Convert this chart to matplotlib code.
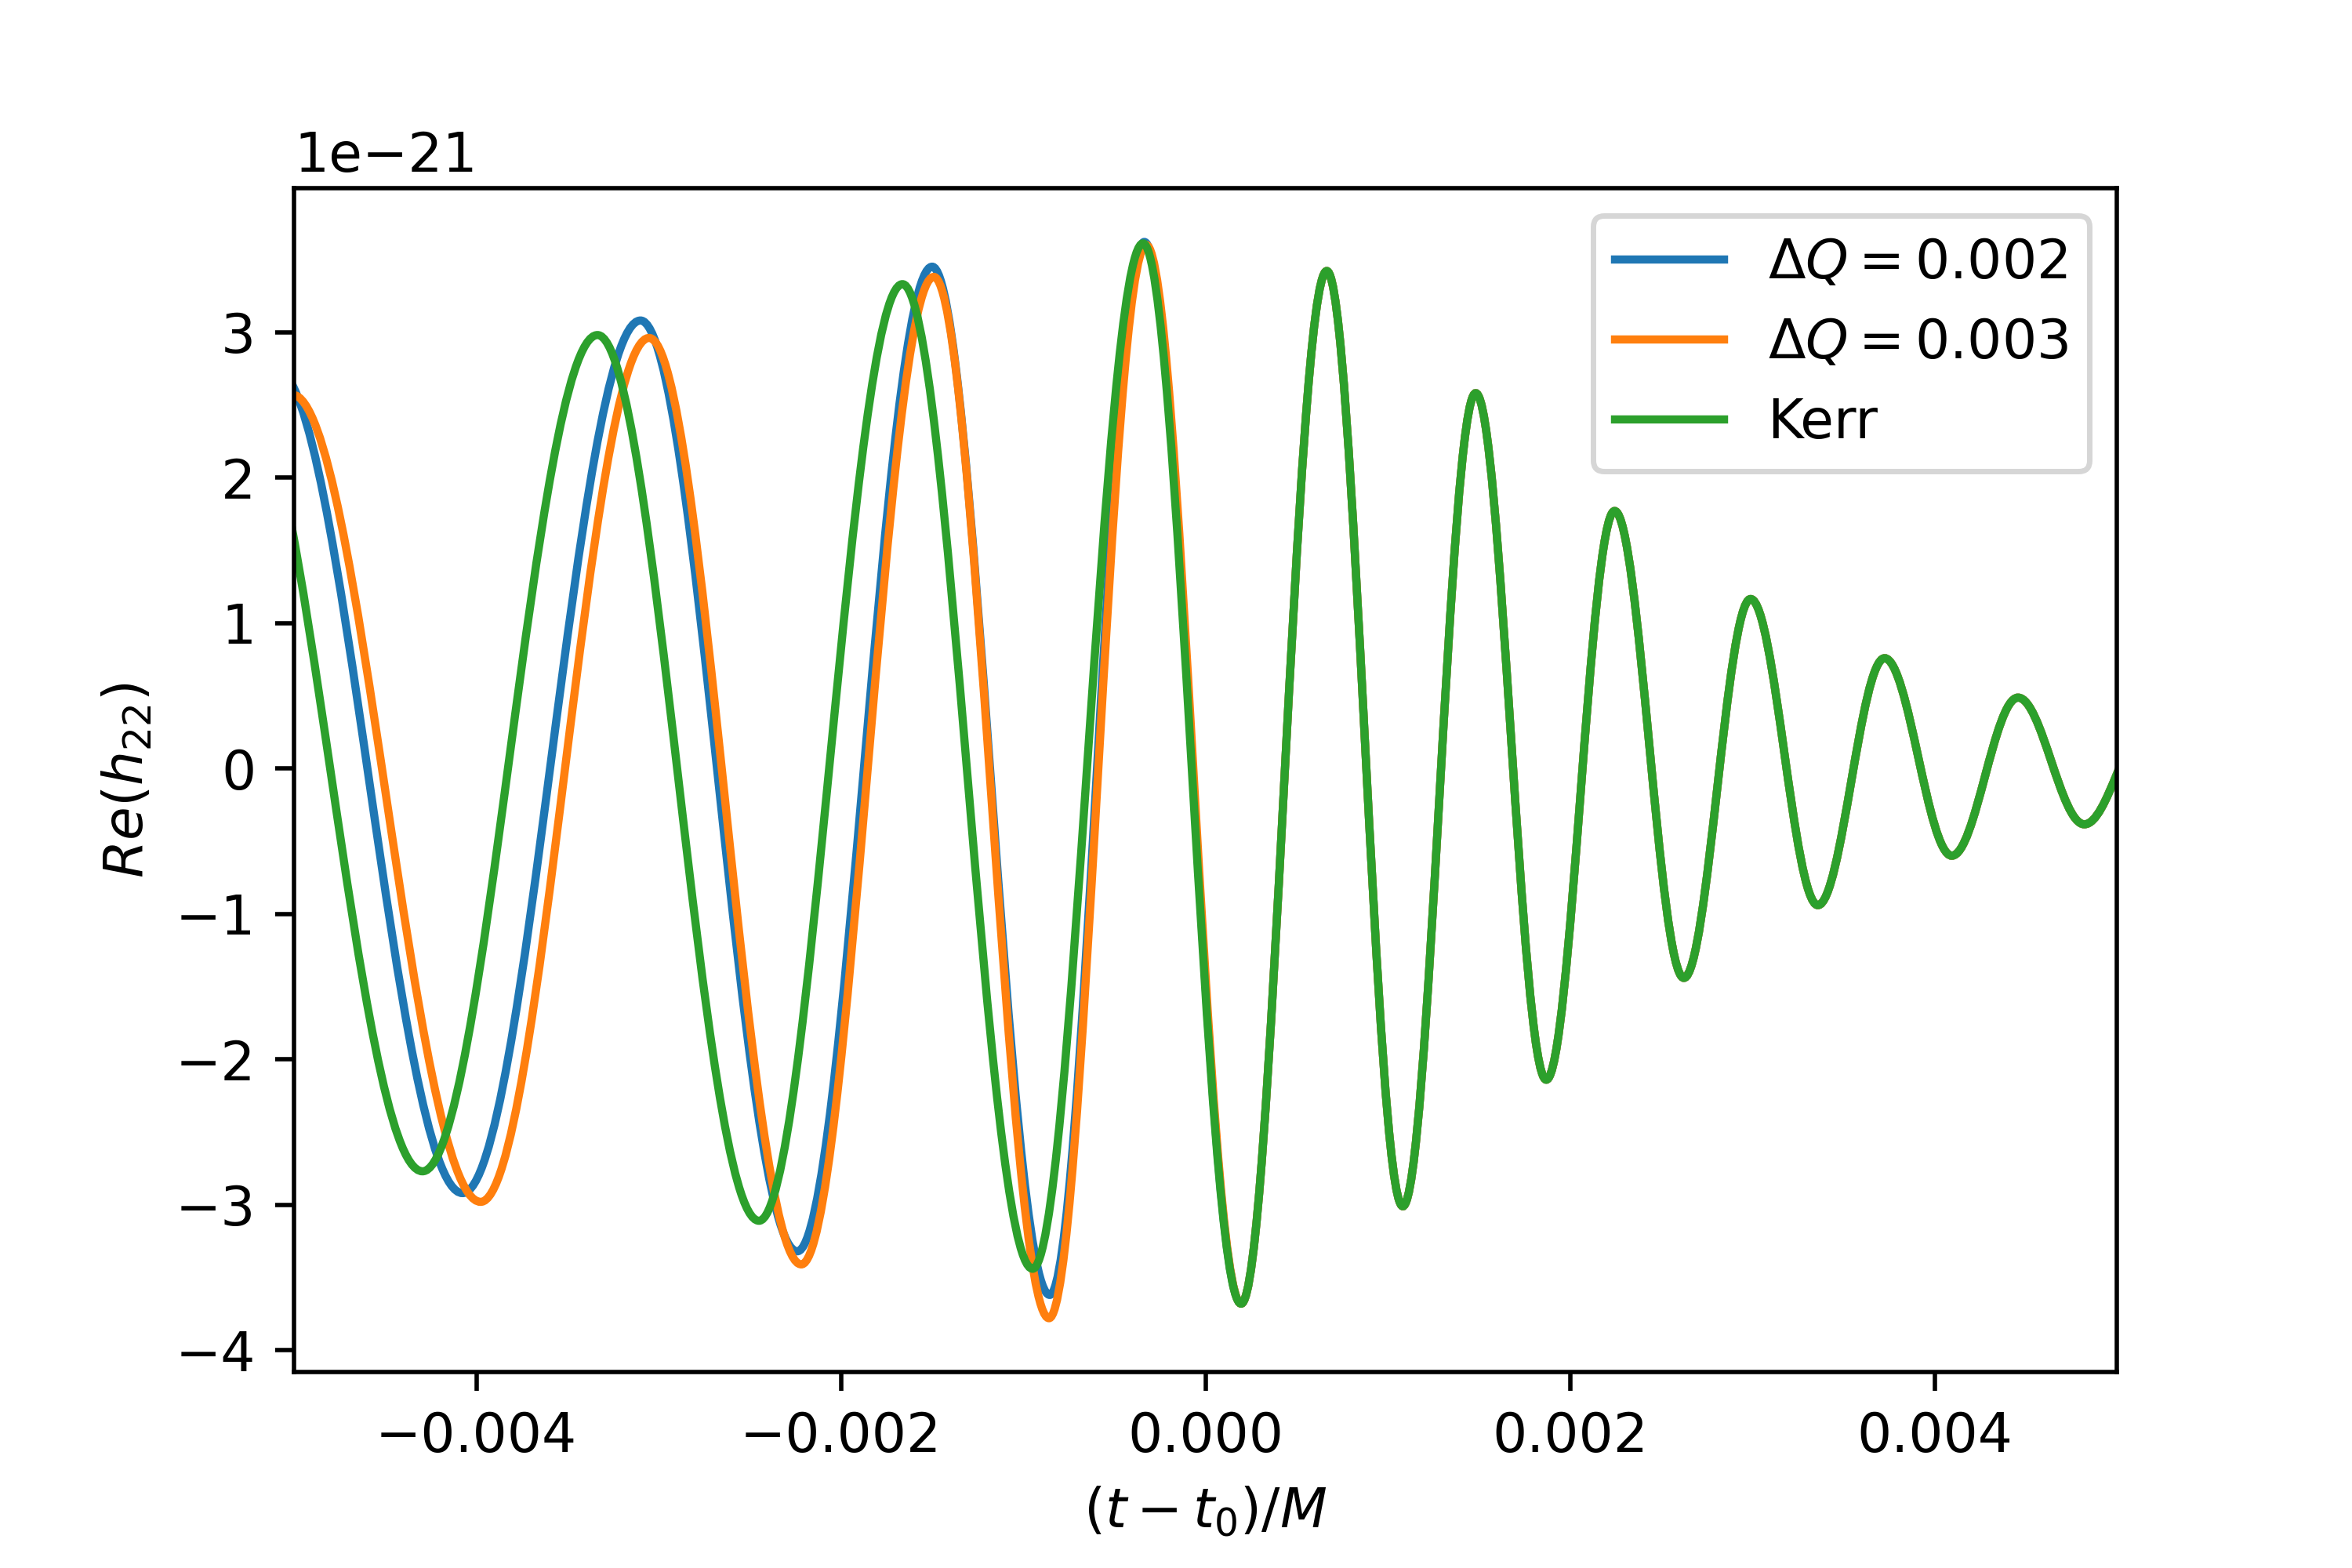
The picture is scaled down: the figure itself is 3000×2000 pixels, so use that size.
import matplotlib
matplotlib.use("Agg")
import matplotlib.pyplot as plt
from matplotlib.path import Path
from matplotlib.patches import PathPatch
from matplotlib.lines import Line2D

# Extrema of Re(h22) (t in 1e-3, h in 1e-21)
kerr_t = [-5.30, -4.295, -3.335, -2.449, -1.662, -0.948, -0.342, 0.196, 0.666,
          1.083, 1.483, 1.870, 2.245, 2.625, 2.991, 3.360, 3.726, 4.095, 4.458,
          4.822, 5.18]
kerr_h = [2.70, -2.77, 2.98, -3.11, 3.33, -3.44, 3.61, -3.68, 3.42,
          -3.01, 2.58, -2.14, 1.77, -1.44, 1.165, -0.94, 0.758, -0.60, 0.487,
          -0.384, 0.31]

# early part of the two deformed waveforms, they merge with Kerr after the peak
dq2_t = [-5.10, -4.075, -3.099, -2.239, -1.499, -0.854, -0.335]
dq2_h = [2.75, -2.92, 3.08, -3.32, 3.45, -3.62, 3.62]
dq3_t = [-5.01, -3.976, -3.052, -2.217, -1.490, -0.858, -0.325]
dq3_h = [2.57, -2.98, 2.96, -3.41, 3.38, -3.78, 3.60]

labels = [r"$\Delta Q = 0.002$", r"$\Delta Q = 0.003$", "Kerr"]
colors = ["C0", "C1", "C2"]


def wave_path(t, h, k=0.36):
    """Smooth path through the extrema using cubic Bezier segments."""
    t = [x * 1e-3 for x in t]
    h = [y * 1e-21 for y in h]
    verts = [(t[0], h[0])]
    codes = [Path.MOVETO]
    for i in range(len(t) - 1):
        dt = t[i + 1] - t[i]
        verts += [(t[i] + k * dt, h[i]), (t[i + 1] - k * dt, h[i + 1]),
                  (t[i + 1], h[i + 1])]
        codes += [Path.CURVE4] * 3
    return Path(verts, codes)


tail = kerr_t.index(0.196)
series = [
    (dq2_t + kerr_t[tail:], dq2_h + kerr_h[tail:]),
    (dq3_t + kerr_t[tail:], dq3_h + kerr_h[tail:]),
    (kerr_t, kerr_h),
]

fig = plt.figure(figsize=(6, 4), dpi=500)
ax = fig.add_subplot(111)
fig.subplots_adjust(left=0.125, right=0.9, top=0.88, bottom=0.125)

for (t, h), c in zip(series, colors):
    ax.add_patch(PathPatch(wave_path(t, h), fill=False, edgecolor=c, lw=1.5))

ax.autoscale_view()
ax.set_xlim(-0.005, 0.005)
ax.set_xlabel(r"$(t-t_0)/M$")
ax.set_ylabel(r"$Re(h_{22})$")

handles = [Line2D([], [], color=c, lw=1.5) for c in colors]
ax.legend(handles, labels, loc="upper right")

fig.savefig("out.png", dpi=500)
